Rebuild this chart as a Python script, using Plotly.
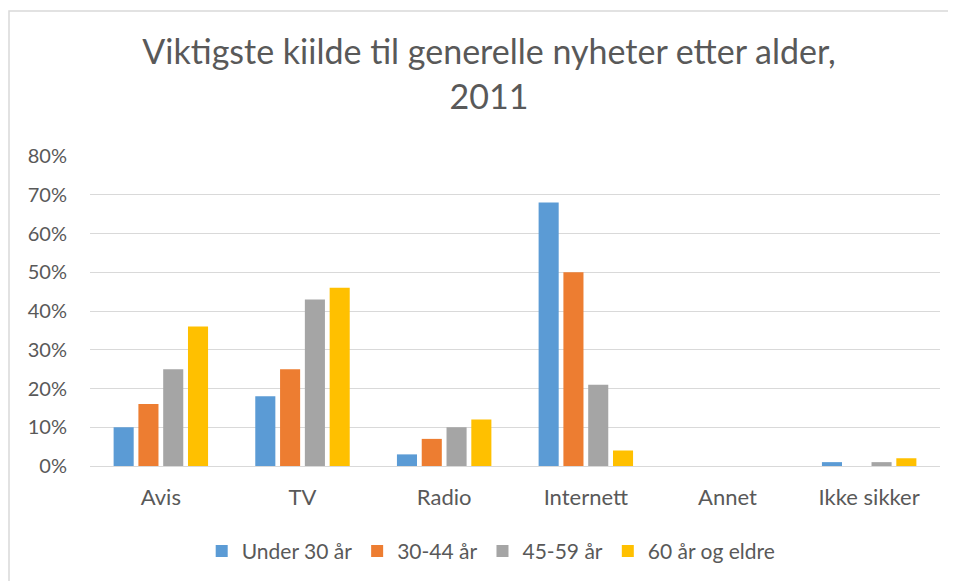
import plotly.graph_objects as go

categories = ["Avis", "TV", "Radio", "Internett", "Annet", "Ikke sikker"]
series_names = ["Under 30 år", "30-44 år", "45-59 år", "60 år og eldre"]
under30 = [10, 18, 3, 68, 0, 1]
age30_44 = [16, 25, 7, 50, 0, 0]
age45_59 = [25, 43, 10, 21, 0, 1]
age60plus = [36, 46, 12, 4, 0, 2]
colors = ["#5B9BD5", "#ED7D31", "#A5A5A5", "#FFC000"]
y_ticks = [0, 10, 20, 30, 40, 50, 60, 70, 80]
y_tick_labels = [f"{v}%" for v in y_ticks]

FONT = "Lato, Open Sans, sans-serif"
TXT = "#595959"

L, R, T, B = 82, 24, 148, 123
PW, PH = 956 - L - R, 581 - T - B

fig = go.Figure()
for name, vals, col in zip(series_names, [under30, age30_44, age45_59, age60plus], colors):
    fig.add_trace(go.Bar(x=categories, y=vals, name=name, marker_color=col,
                         marker_line_width=0))

fig.update_layout(
    width=956, height=581,
    margin=dict(l=L, r=R, t=T, b=B),
    paper_bgcolor="white", plot_bgcolor="white",
    barmode="group", bargap=0.3, bargroupgap=0.19,
    title=dict(text="Viktigste kiilde til generelle nyheter etter alder,<br>2011",
               xref="container", x=(489 - 8) / 956, xanchor="center",
               y=0.903, yanchor="top",
               font=dict(family=FONT, size=34, color=TXT)),
    font=dict(family=FONT, size=20, color=TXT),
    legend=dict(orientation="h", x=0.472, xanchor="center", y=-0.209, yanchor="top",
                font=dict(family=FONT, size=21, color=TXT), itemwidth=30,
                traceorder="normal"),
    showlegend=True,
)
fig.update_yaxes(range=[0, 80], tickvals=y_ticks, ticktext=y_tick_labels,
                 gridcolor="#D9D9D9", gridwidth=1, zeroline=False,
                 showline=False, ticklabelstandoff=22,
                 tickfont=dict(family=FONT, size=20, color=TXT))
fig.update_xaxes(showline=True, linecolor="#D9D9D9", linewidth=1,
                 ticklabelstandoff=12,
                 tickfont=dict(family=FONT, size=22, color=TXT))

# outer chart border
fig.add_shape(type="rect", xref="paper", yref="paper",
              x0=(1 - L) / PW, x1=1.2, y0=-0.6, y1=1 + (T - 3) / PH,
              line=dict(color="#D9D9D9", width=1.5), fillcolor="rgba(0,0,0,0)",
              layer="below")

fig.write_html("out.html")
